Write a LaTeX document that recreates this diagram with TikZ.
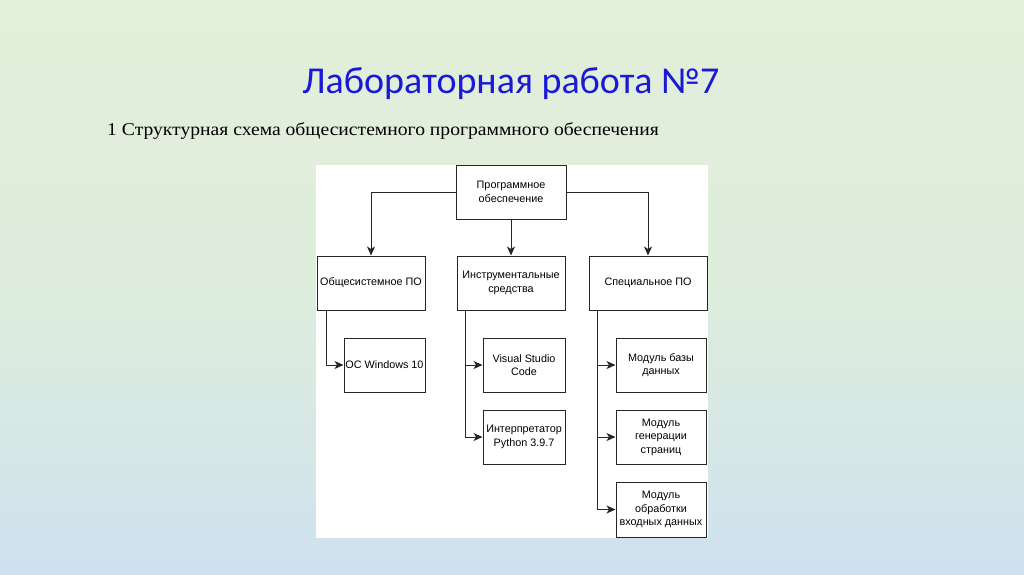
\documentclass[tikz,border=0pt]{standalone}
\usepackage{fontspec}
\setmainfont{Liberation Serif}
\newfontfamily\titlefont{Carlito}
\newfontfamily\diafont{Liberation Sans}
\usetikzlibrary{arrows.meta,calc}
\definecolor{bgtop}{RGB}{226,239,218}
\definecolor{bgmid}{RGB}{222,237,220}
\definecolor{bgbot}{RGB}{207,225,239}
\definecolor{titleblue}{RGB}{26,26,214}
\begin{document}
\begin{tikzpicture}[x=1pt,y=-1pt,
  box/.style={draw=black!85,line width=1pt,fill=white,inner sep=1pt,align=center,font=\diafont\fontsize{10.8}{13.5}\selectfont},
  arr/.style={draw=black!85,line width=1pt,-{Stealth[length=9pt,width=8pt,inset=2.5pt]}}]
\useasboundingbox (0,0) rectangle (1024,574);
\shade[top color=bgtop,bottom color=bgbot,middle color=bgmid] (0,0) rectangle (1024,574);
\fill[white] (316,165) rectangle (708,538);
\node[font=\titlefont\fontsize{38}{40}\selectfont,text=titleblue] (title) at (511,84) {Лабораторная работа №7};
\node[font=\fontsize{18}{20}\selectfont,anchor=west,inner sep=0pt,xscale=1.09,transform shape] (sub) at (107,131) {1 Структурная схема общесистемного программного обеспечения};
% level 1
\node[box,minimum width=110pt,minimum height=54pt] (top) at (511,192) {Программное\\обеспечение};
% level 2
\node[box,minimum width=108pt,minimum height=54pt] (A) at (371,283) {Общесистемное ПО};
\node[box,minimum width=108pt,minimum height=54pt] (B) at (511,283) {Инструментальные\\средства};
\node[box,minimum width=118pt,minimum height=54pt] (C) at (648,283) {Специальное ПО};
% level 3
\node[box,minimum width=81pt,minimum height=54pt] (OS) at (384.5,365) {ОС Windows 10};
\node[box,minimum width=82pt,minimum height=54pt] (VS) at (524,365) {Visual Studio\\Code};
\node[box,minimum width=82pt,minimum height=54pt] (PY) at (524,437) {Интерпретатор\\Python 3.9.7};
\node[box,minimum width=90pt,minimum height=54pt] (M1) at (661,365) {Модуль базы\\данных};
\node[box,minimum width=90pt,minimum height=54pt] (M2) at (661,437) {Модуль\\генерации\\страниц};
\node[box,minimum width=90pt,minimum height=55pt] (M3) at (661,509.5) {Модуль\\обработки\\входных данных};
% connectors
\draw[arr] (top.west) -| (A.north);
\draw[arr] (top.south) -- (B.north);
\draw[arr] (top.east) -| (C.north);
\draw[arr] ([xshift=10pt]A.south west) |- (OS.west);
\draw[arr] ([xshift=9pt]B.south west) |- (VS.west);
\draw[arr] ([xshift=9pt]B.south west) |- (PY.west);
\draw[arr] ([xshift=9pt]C.south west) |- (M1.west);
\draw[arr] ([xshift=9pt]C.south west) |- (M2.west);
\draw[arr] ([xshift=9pt]C.south west) |- (M3.west);
\end{tikzpicture}
\end{document}
